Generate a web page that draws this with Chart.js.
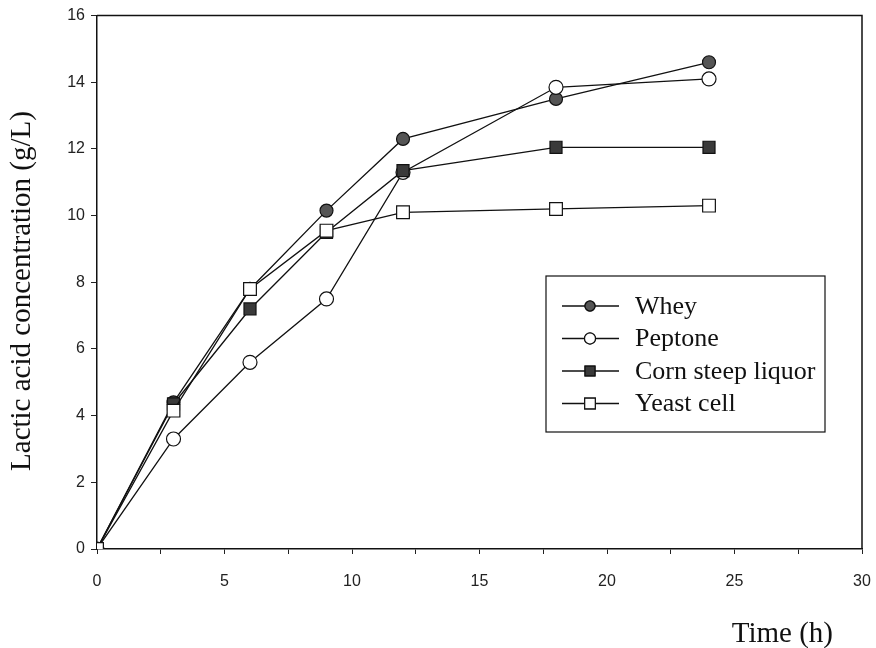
<!DOCTYPE html>
<html>
<head>
<meta charset="utf-8">
<script src="https://cdn.jsdelivr.net/npm/chart.js@4"></script>
<style>
  html, body { margin: 0; padding: 0; background: #fff; }
  #wrap { width: 876px; height: 648px; }
</style>
</head>
<body>
<div id="wrap"><canvas id="myChart" width="876" height="648"></canvas></div>
<script>
'use strict';

// sampling times (h)
let times = [0, 3, 6, 9, 12, 18, 24];

// lactic acid (g/L) per nitrogen source
let whey = [0, 4.4, 7.8, 10.15, 12.3, 13.5, 14.6];
let peptone = [0, 3.3, 5.6, 7.5, 11.3, 13.85, 14.1];
let cornSteep = [0, 4.35, 7.2, 9.5, 11.35, 12.05, 12.05];
let yeastCell = [0, 4.15, 7.8, 9.55, 10.1, 10.2, 10.3];

let seriesNames = ['Whey', 'Peptone', 'Corn steep liquor', 'Yeast cell'];

let xTicks = [0, 5, 10, 15, 20, 25, 30];
let yTicks = [0, 2, 4, 6, 8, 10, 12, 14, 16];

let xTitle = 'Time (h)';
let yTitle = 'Lactic acid concentration (g/L)';

let canvasElem = document.getElementById('myChart');
let serif = '"Liberation Serif", "Times New Roman", serif';

function toPoints(arr) {
  let pts = [];
  for (let i = 0; i < times.length; i++) {
    pts.push({ x: times[i], y: arr[i] });
  }
  return pts;
}

function makeSet(label, values, shape, fill, radius, order) {
  return {
    label: label,
    data: toPoints(values),
    order: order, // later series sit on top, like the original
    borderColor: '#111',
    borderWidth: 1.3,
    pointStyle: shape,
    pointRadius: radius,
    pointBackgroundColor: fill,
    pointBorderColor: '#111',
    pointBorderWidth: 1.2,
    tension: 0,
    fill: false
  };
}

// frame on top/right, axis titles, legend box inside plot
let framePlugin = {
  id: 'frame',
  afterDatasetsDraw(chart) {
    let ctx = chart.ctx;
    let a = chart.chartArea;
    ctx.save();
    ctx.strokeStyle = '#111';
    ctx.lineWidth = 1.5;
    ctx.beginPath();
    ctx.moveTo(a.left, a.top);
    ctx.lineTo(a.right, a.top);
    ctx.lineTo(a.right, a.bottom);
    ctx.stroke();

    // axis titles
    ctx.fillStyle = '#111';
    ctx.font = '29px ' + serif;
    ctx.textAlign = 'right';
    ctx.textBaseline = 'alphabetic';
    ctx.fillText(xTitle, a.right - 29, 642);
    ctx.save();
    ctx.translate(30, 291);
    ctx.rotate(-Math.PI / 2);
    ctx.textAlign = 'center';
    ctx.fillText(yTitle, 0, 0);
    ctx.restore();

    // legend
    let bx = 546, by = 276, bw = 279, bh = 156;
    ctx.fillStyle = '#fff';
    ctx.fillRect(bx, by, bw, bh);
    ctx.lineWidth = 1.2;
    ctx.strokeRect(bx, by, bw, bh);
    ctx.font = '26px ' + serif;
    ctx.textAlign = 'left';
    ctx.textBaseline = 'middle';
    chart.data.datasets.forEach((ds, i) => {
      let y = by + 30 + i * 32.5;
      ctx.strokeStyle = '#111';
      ctx.lineWidth = 1.3;
      ctx.beginPath();
      ctx.moveTo(bx + 16, y);
      ctx.lineTo(bx + 73, y);
      ctx.stroke();
      Chart.helpers.drawPoint(ctx, {
        pointStyle: ds.pointStyle,
        radius: ds.pointRadius - 1.5,
        borderWidth: ds.pointBorderWidth
      }, bx + 44, y);
      ctx.fillStyle = ds.pointBackgroundColor;
      ctx.strokeStyle = '#111';
      ctx.lineWidth = ds.pointBorderWidth;
      ctx.fill();
      ctx.stroke();
      ctx.fillStyle = '#111';
      ctx.fillText(ds.label, bx + 89, y + 1);
    });
    ctx.restore();
  }
};

let chartObj = {
  type: 'line',
  data: {
    datasets: [
      makeSet(seriesNames[0], whey, 'circle', '#555', 6.5, 3),
      makeSet(seriesNames[1], peptone, 'circle', '#fff', 7, 2),
      makeSet(seriesNames[2], cornSteep, 'rect', '#3a3a3a', 8.5, 1),
      makeSet(seriesNames[3], yeastCell, 'rect', '#fff', 9, 0)
    ]
  },
  options: {
    responsive: false,
    animation: false,
    layout: { padding: { left: 0, right: 14, top: 15, bottom: 0 } },
    plugins: {
      legend: { display: false },
      tooltip: { enabled: false }
    },
    scales: {
      x: {
        type: 'linear',
        min: 0,
        max: 30,
        afterFit(scale) {
          scale.height = 99;
          // keep the plot right edge where the original has it
          scale.paddingLeft = 0;
          scale.paddingRight = 0;
        },
        afterBuildTicks(scale) {
          scale.ticks = [];
          for (let v = 0; v <= 30; v += 2.5) scale.ticks.push({ value: v });
        },
        ticks: {
          autoSkip: false,
          maxRotation: 0,
          padding: 18,
          color: '#222',
          font: { family: '"Liberation Sans", Arial, sans-serif', size: 16 },
          callback: (v) => (xTicks.indexOf(v) >= 0 ? String(v) : '')
        },
        grid: { display: true, drawOnChartArea: false, tickLength: 5, color: '#222', lineWidth: 1 },
        border: { color: '#111', width: 1.5 }
      },
      y: {
        type: 'linear',
        min: 0,
        max: 16,
        afterFit(scale) { scale.width = 97; },
        afterBuildTicks(scale) {
          scale.ticks = yTicks.map((v) => ({ value: v }));
        },
        ticks: {
          padding: 6,
          color: '#222',
          font: { family: '"Liberation Sans", Arial, sans-serif', size: 16 }
        },
        grid: { display: true, drawOnChartArea: false, tickLength: 6, color: '#222', lineWidth: 1 },
        border: { color: '#111', width: 1.5 }
      }
    }
  },
  plugins: [framePlugin]
};

new Chart(canvasElem, chartObj);
</script>
</body>
</html>
